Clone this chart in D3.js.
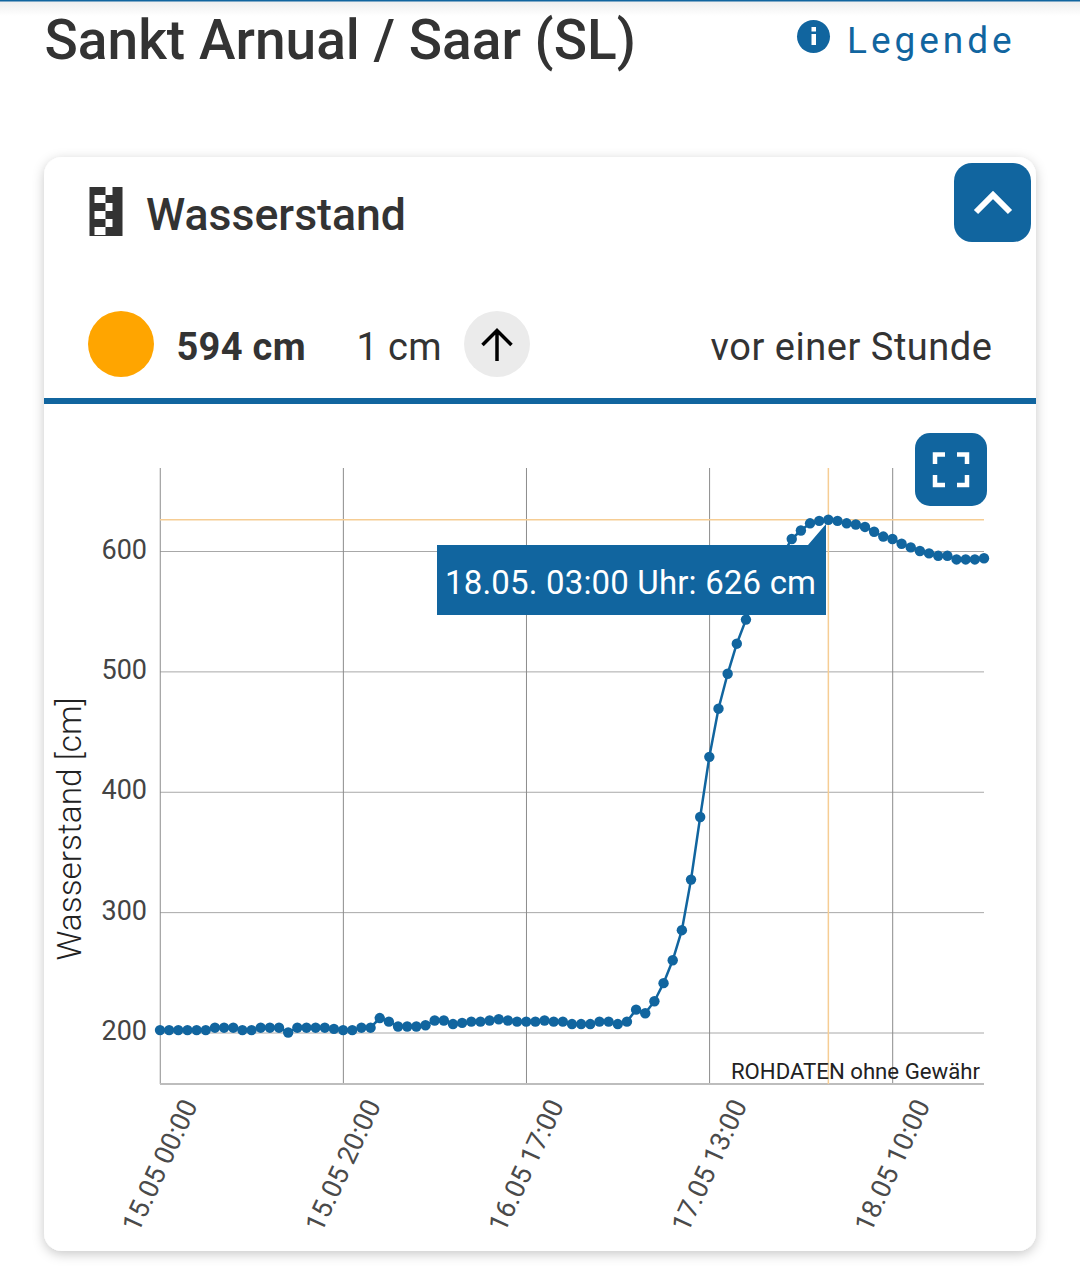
<!DOCTYPE html>
<html lang="de">
<head>
<meta charset="utf-8">
<title>Sankt Arnual / Saar (SL)</title>
<script src="https://cdn.jsdelivr.net/npm/d3@7"></script>
<style>
  html, body { margin: 0; padding: 0; background: #fff; }
  svg { display: block; font-family: Roboto, sans-serif; }
</style>
</head>
<body>
<div id="chart"></div>
<script>
// hourly readings (65-68 sit behind the tooltip, estimated)
const levels = [
  202, 202, 202, 202, 202, 202, 204, 204, 204, 202,
  202, 204, 204, 204, 200, 204, 204, 204, 204, 203,
  202, 202, 204, 204, 212, 209, 205, 205, 205, 206,
  210, 210, 207, 208, 209, 209, 210, 211, 210, 209,
  209, 209, 210, 209, 209, 207, 207, 207, 209, 209,
  207, 209, 219, 216, 226, 241, 260, 285, 327, 379,
  429, 469, 498, 523, 543, 560, 574, 586, 597, 610,
  617, 623, 625, 626, 625, 623, 622, 620, 616, 612,
  610, 606, 603, 600, 598, 596, 596, 593, 593, 593, 594
];
const xTickIndex = [0, 20, 40, 60, 80];
const xTickLabels = ['15.05 00:00', '15.05 20:00', '16.05 17:00', '17.05 13:00', '18.05 10:00'];
const yTicks = [200, 300, 400, 500, 600];
const selectedIndex = 73;
const selectedLabel = '18.05. 03:00 Uhr: 626 cm';

const BLUE = '#11659f';
const TEXT = '#333333';
const CROSS = '#f6cd94';

const svg = d3.select('#chart').append('svg').attr('width', 1080).attr('height', 1274);

const defs = svg.append('defs');
const topFade = defs.append('linearGradient').attr('id', 'topFade').attr('x1', 0).attr('x2', 0).attr('y1', 0).attr('y2', 1);
topFade.append('stop').attr('offset', 0).attr('stop-color', '#ececec');
topFade.append('stop').attr('offset', 1).attr('stop-color', '#ffffff');
const shadow = defs.append('filter').attr('id', 'cardShadow')
  .attr('x', '-5%').attr('y', '-5%').attr('width', '110%').attr('height', '110%');
shadow.append('feDropShadow').attr('dx', 0).attr('dy', 3).attr('stdDeviation', 6)
  .attr('flood-color', '#000').attr('flood-opacity', 0.22);

// page header
svg.append('rect').attr('width', 1080).attr('height', 16).attr('fill', 'url(#topFade)');
svg.append('rect').attr('width', 1080).attr('height', 1.5).attr('fill', BLUE);
svg.append('text').attr('x', 44.5).attr('y', 59).attr('font-size', 55).attr('font-weight', 500)
  .attr('letter-spacing', 0.03).attr('fill', TEXT).text('Sankt Arnual / Saar (SL)');
svg.append('circle').attr('cx', 813.5).attr('cy', 36.5).attr('r', 16.5).attr('fill', BLUE);
svg.append('rect').attr('x', 811.5).attr('y', 34).attr('width', 4.5).attr('height', 11).attr('fill', '#fff');
svg.append('rect').attr('x', 811.5).attr('y', 27).attr('width', 4.5).attr('height', 4.5).attr('fill', '#fff');
svg.append('text').attr('x', 847).attr('y', 53).attr('font-size', 37).attr('letter-spacing', 3.95)
  .attr('fill', BLUE).text('Legende');

// card
svg.append('rect').attr('x', 44).attr('y', 157).attr('width', 992).attr('height', 1094).attr('rx', 18)
  .attr('fill', '#fff').attr('filter', 'url(#cardShadow)');

// gauge icon
const icon = svg.append('g').attr('transform', 'translate(89.5,187)');
icon.append('rect').attr('width', 33).attr('height', 49).attr('fill', TEXT);
[[16, 0], [5, 8], [16, 16], [5, 24], [16, 32], [5, 40]].forEach(([cx, cy]) => {
  icon.append('rect').attr('x', cx).attr('y', cy).attr('width', cx === 5 ? 11 : 7).attr('height', 8).attr('fill', '#fff');
});
svg.append('text').attr('x', 146).attr('y', 230).attr('font-size', 44.6).attr('font-weight', 500)
  .attr('fill', TEXT).text('Wasserstand');

// collapse button
svg.append('rect').attr('x', 954).attr('y', 163).attr('width', 77).attr('height', 79).attr('rx', 18).attr('fill', BLUE);
svg.append('path').attr('d', 'M976,212L993,195L1010,212').attr('fill', 'none').attr('stroke', '#fff').attr('stroke-width', 6);

// current value row
svg.append('circle').attr('cx', 121).attr('cy', 344).attr('r', 33).attr('fill', '#ffa500');
svg.append('text').attr('x', 176.5).attr('y', 360).attr('font-size', 38).attr('font-weight', 700)
  .attr('letter-spacing', 0.3).attr('fill', TEXT).text('594 cm');
svg.append('text').attr('x', 356.5).attr('y', 360).attr('font-size', 38)
  .attr('letter-spacing', 0.4).attr('fill', TEXT).text('1 cm');
svg.append('circle').attr('cx', 497).attr('cy', 344).attr('r', 33).attr('fill', '#ebebeb');
svg.append('path').attr('d', 'M497,361V331M482.5,345L497,330.5L511.5,345').attr('fill', 'none')
  .attr('stroke', '#000').attr('stroke-width', 3.5);
svg.append('text').attr('x', 992.5).attr('y', 360).attr('font-size', 38).attr('text-anchor', 'end')
  .attr('letter-spacing', 0.53).attr('fill', TEXT).text('vor einer Stunde');
svg.append('rect').attr('x', 44).attr('y', 398).attr('width', 992).attr('height', 6).attr('fill', BLUE);

// chart
const plotLeft = 160, plotRight = 984, plotTop = 468, plotBottom = 1084;
const x = d3.scaleLinear().domain([0, levels.length - 1]).range([plotLeft, plotRight]);
const y = d3.scaleLinear().domain([200, 600]).range([1032.5, 551]);

const yAxis = svg.append('g').attr('transform', `translate(${plotLeft},0)`)
  .call(d3.axisLeft(y).tickValues(yTicks).tickSize(-(plotRight - plotLeft)).tickPadding(13));
yAxis.select('.domain').remove();
yAxis.selectAll('line').attr('stroke', '#a8a8a8').attr('stroke-width', 1);
yAxis.selectAll('text').attr('font-size', 27).attr('font-family', 'Roboto, sans-serif').attr('fill', '#444')
  .attr('y', -1.5);

const xAxis = svg.append('g').attr('transform', `translate(-0.25,${plotBottom})`)
  .call(d3.axisBottom(x).tickValues(xTickIndex).tickSize(-(plotBottom - plotTop))
    .tickFormat((d, i) => xTickLabels[i]));
xAxis.select('.domain').remove();
xAxis.selectAll('line').attr('stroke', '#8c8c8c').attr('stroke-width', 1);
xAxis.selectAll('text')
  .attr('font-size', 27).attr('font-family', 'Roboto, sans-serif')
  .attr('fill', '#4a4a4a').attr('text-anchor', 'end')
  .attr('x', 0).attr('y', 0).attr('dy', 0)
  .attr('transform', 'translate(38,21) rotate(-65)');

svg.append('line').attr('x1', plotLeft).attr('x2', plotRight).attr('y1', plotBottom).attr('y2', plotBottom)
  .attr('stroke', '#bdbdbd').attr('stroke-width', 2);

svg.append('text').attr('transform', 'translate(80.5,829) rotate(-90)').attr('text-anchor', 'middle')
  .attr('font-size', 33.4).attr('font-weight', 300).attr('fill', '#222').text('Wasserstand [cm]');

// crosshair on the selected reading
svg.append('line').attr('x1', plotLeft).attr('x2', plotRight)
  .attr('y1', y(levels[selectedIndex])).attr('y2', y(levels[selectedIndex]))
  .attr('stroke', CROSS).attr('stroke-width', 1.5);
svg.append('line').attr('x1', x(selectedIndex)).attr('x2', x(selectedIndex)).attr('y1', plotTop).attr('y2', plotBottom)
  .attr('stroke', CROSS).attr('stroke-width', 1.5);

svg.append('text').attr('x', 980).attr('y', 1079).attr('text-anchor', 'end').attr('font-size', 22.2)
  .attr('fill', '#222').text('ROHDATEN ohne Gewähr');

// series
const levelLine = d3.line().x((d, i) => x(i)).y(d => y(d));
svg.append('path').datum(levels).attr('d', levelLine).attr('fill', 'none').attr('stroke', BLUE).attr('stroke-width', 2.5);
svg.append('g').selectAll('circle').data(levels).join('circle')
  .attr('cx', (d, i) => x(i)).attr('cy', d => y(d)).attr('r', 5.2).attr('fill', BLUE);

// tooltip
svg.append('path').attr('d', 'M437,545H808L826,524V615H437Z').attr('fill', BLUE);
svg.append('text').attr('x', 445).attr('y', 594).attr('font-size', 33).attr('letter-spacing', 0.17)
  .attr('fill', '#fff').text(selectedLabel);

// fullscreen button
svg.append('rect').attr('x', 915).attr('y', 433).attr('width', 72).attr('height', 73).attr('rx', 15).attr('fill', BLUE);
svg.append('path')
  .attr('d', 'M935,464V454.5H945M957,454.5H967V464M935,475V485H945M957,485H967V475')
  .attr('fill', 'none').attr('stroke', '#fff').attr('stroke-width', 4.5);
</script>
</body>
</html>
